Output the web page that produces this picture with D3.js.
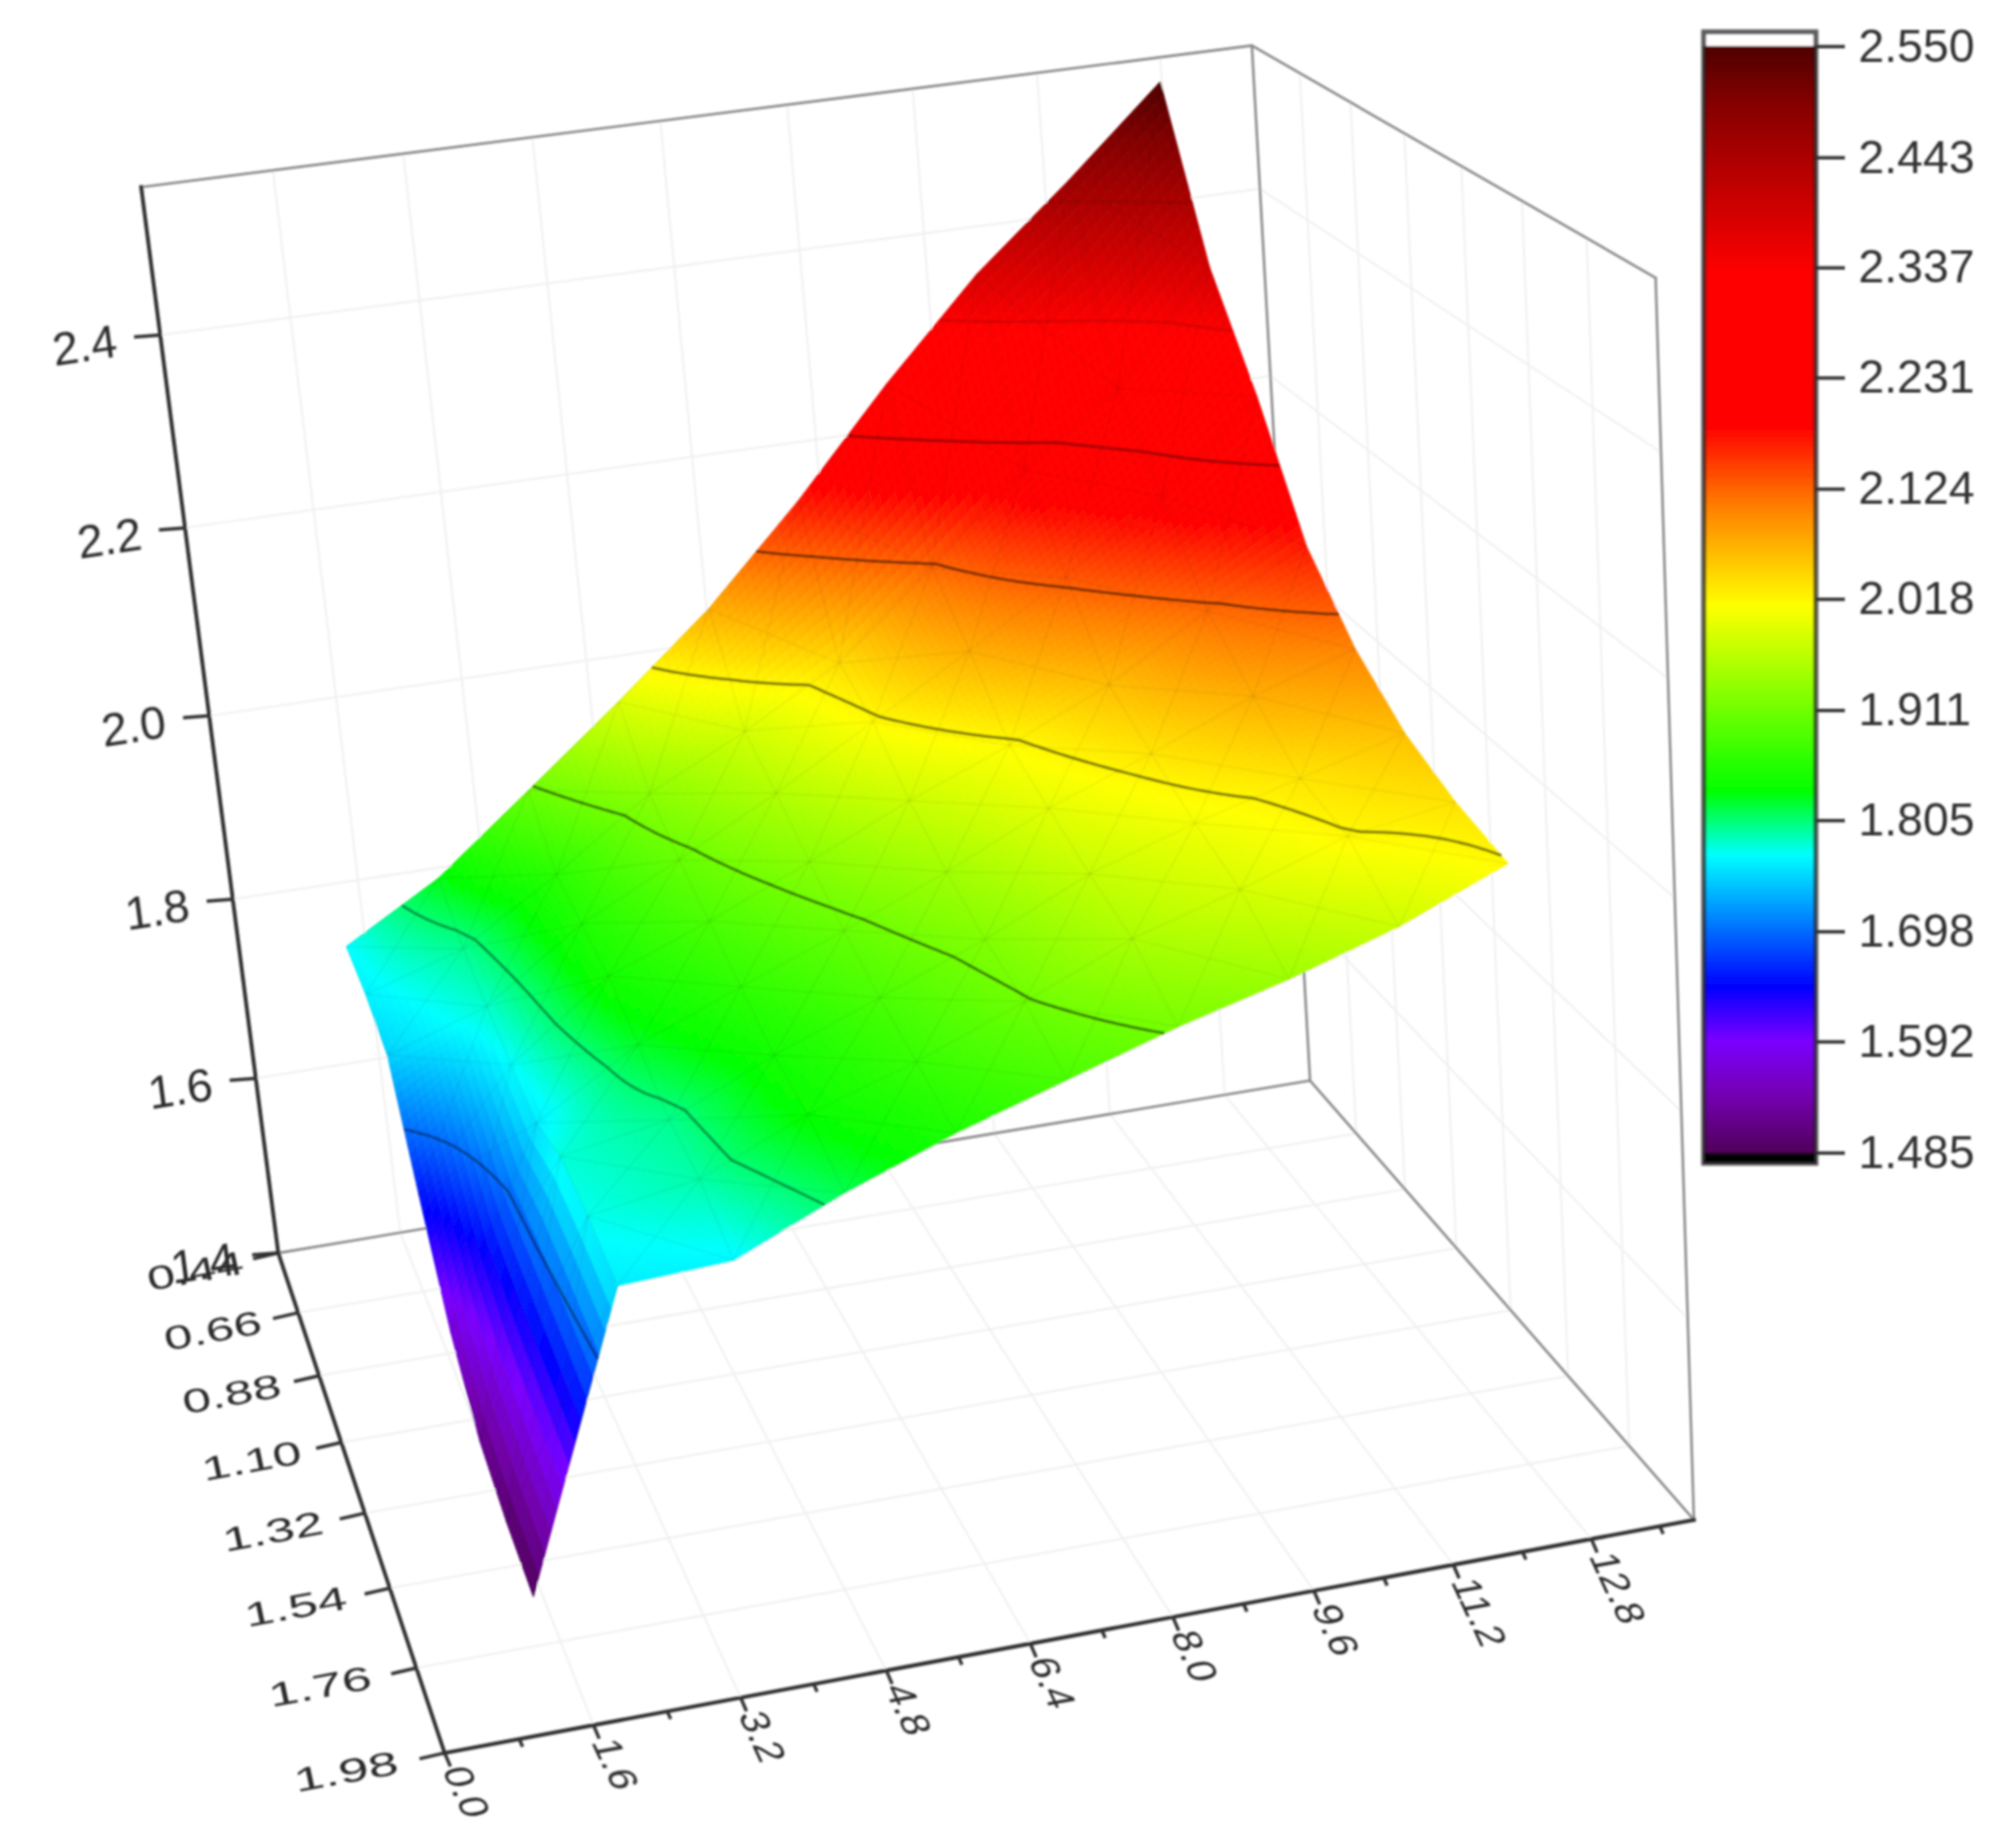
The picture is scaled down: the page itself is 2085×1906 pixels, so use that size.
<!DOCTYPE html>
<html lang="en">
<head>
<meta charset="UTF-8">
<title>Surface plot with D3.js</title>
<style>
    body { margin: 0; background: #fff; }
    text { font-family: "Liberation Sans", Arial, sans-serif; }
</style>
</head>
<body>
<script src="https://d3js.org/d3.v7.min.js"></script>
<script>
const W = 2085, H = 1906;

// axis ticks
const xTicks = [0, 1.6, 3.2, 4.8, 6.4, 8, 9.6, 11.2, 12.8];
const xMinor = [0.8, 2.4, 4, 5.6, 7.2, 8.8, 10.4, 12, 13.6];
const yTicks = [0.44, 0.66, 0.88, 1.1, 1.32, 1.54, 1.76, 1.98];
const zTicks = [1.4, 1.6, 1.8, 2, 2.2, 2.4];
const barTicks = [1.485, 1.592, 1.698, 1.805, 1.911, 2.018, 2.124, 2.231, 2.337, 2.443, 2.55];

// surface nodes: x along the back and front rows, y along the left and right columns
const xBack = [1.22, 2.46, 3.70, 4.94, 6.18, 7.42, 8.66, 9.90, 11.14, 12.38];
const xFront = [1.26, 2.52, 3.78, 5.04, 6.30, 7.56, 8.82, 10.08, 11.34, 12.60];
const yLeft = [0.59, 0.77, 0.95, 1.13, 1.31, 1.49, 1.67, 1.85];
const yRight = [0.60, 0.777, 0.954, 1.131, 1.309, 1.486, 1.663, 1.84];

// surface heights, back row first
const zRow0 = [1.770, 1.828, 1.907, 1.987, 2.071, 2.170, 2.279, 2.379, 2.462, 2.550];
const zRow1 = [1.765, 1.797, 1.860, 1.930, 1.980, 2.036, 2.120, 2.208, 2.277, 2.387];
const zRow2 = [1.749, 1.783, 1.853, 1.903, 1.956, 2.014, 2.071, 2.131, 2.199, 2.286];
const zRow3 = [1.654, 1.771, 1.845, 1.884, 1.928, 1.974, 2.014, 2.059, 2.118, 2.168];
const zRow4 = [1.566, 1.762, 1.823, 1.864, 1.903, 1.945, 1.992, 2.030, 2.071, 2.102];
const zRow5 = [1.513, 1.780, 1.798, 1.844, 1.883, 1.923, 1.970, 2.003, 2.030, 2.058];
const zRow6 = [1.493, 1.775, 1.792, 1.836, 1.869, 1.909, 1.952, 1.982, 2.016, 2.032];
const zRow7 = [1.483, 1.763, 1.768, 1.813, 1.851, 1.883, 1.915, 1.942, 1.974, 2.016];
const zGrid = [zRow0, zRow1, zRow2, zRow3, zRow4, zRow5, zRow6, zRow7];

// contour levels
const contourLevels = [1.698, 1.805, 1.911, 2.018, 2.124, 2.231, 2.337, 2.443];
const contourAlpha = [0.4, 0.4, 0.5, 0.5, 0.5, 0.35, 0.12, 0.08];

// colour map
const colorStops = [1.485, 1.535, 1.592, 1.644, 1.771, 1.832, 2.011, 2.105, 2.184, 2.33, 2.5, 2.55];
const colorHex = ['#50005a', '#7200aa', '#7a00ff', '#0000ff', '#00ffff', '#00ff00', '#ffff00', '#ff8000', '#ff0000', '#ff0000', '#800000', '#4d0000'];
const color = d3.scaleLinear().domain(colorStops).range(colorHex);

// unit cube corners and where they land on the page, used to fit the camera
const boxCorners = [
    [0, 1, 0, 459, 1812], [1, 1, 0, 1753, 1572], [0, 0, 0, 288.5, 1297], [1, 0, 0, 1354, 1117],
    [0, 0, 1, 146, 193], [1, 0, 1, 1295, 47], [1, 1, 1, 1712, 288]
];

function solveLinear(A, b) {
    const n = b.length;
    A = A.map((r, i) => [...r, b[i]]);
    for (let i = 0; i < n; i++) {
        let p = i;
        for (let k = i + 1; k < n; k++) if (Math.abs(A[k][i]) > Math.abs(A[p][i])) p = k;
        [A[i], A[p]] = [A[p], A[i]];
        for (let k = i + 1; k < n; k++) {
            const f = A[k][i] / A[i][i];
            for (let j = i; j <= n; j++) A[k][j] -= f * A[i][j];
        }
    }
    const x = Array(n).fill(0);
    for (let i = n - 1; i >= 0; i--) {
        let s = A[i][n];
        for (let j = i + 1; j < n; j++) s -= A[i][j] * x[j];
        x[i] = s / A[i][i];
    }
    return x;
}

// least squares for the 3x4 perspective matrix
const rows = [], rhs = [];
boxCorners.forEach(([X, Y, Z, u, v]) => {
    u /= 1000; v /= 1000;
    rows.push([X, Y, Z, 1, 0, 0, 0, 0, -u * X, -u * Y, -u * Z]); rhs.push(u);
    rows.push([0, 0, 0, 0, X, Y, Z, 1, -v * X, -v * Y, -v * Z]); rhs.push(v);
});
const cam = solveLinear(
    d3.range(11).map(i => d3.range(11).map(j => d3.sum(rows, r => r[i] * r[j]))),
    d3.range(11).map(i => d3.sum(rows, (r, k) => r[i] * rhs[k]))
);

const xScale = d3.scaleLinear().domain([0, 14]);
const yScale = d3.scaleLinear().domain([0.44, 1.98]);
const zScale = d3.scaleLinear().domain([1.4, 2.55]);

function proj(x, y, z) {
    const X = xScale(x), Y = yScale(y), Z = zScale(z);
    const w = cam[8] * X + cam[9] * Y + cam[10] * Z + 1;
    return [1000 * (cam[0] * X + cam[1] * Y + cam[2] * Z + cam[3]) / w,
            1000 * (cam[4] * X + cam[5] * Y + cam[6] * Z + cam[7]) / w];
}

const NX = xBack.length, NY = yLeft.length;
const lerp = (a, b, t) => a + (b - a) * t;
const at = (arr, f) => { const i = Math.min(arr.length - 2, Math.floor(f)); return lerp(arr[i], arr[i + 1], f - i); };

function zAt(fi, fj) {
    const i = Math.min(NX - 2, Math.floor(fi)), j = Math.min(NY - 2, Math.floor(fj)), a = fi - i, b = fj - j;
    return zGrid[j][i] * (1 - a) * (1 - b) + zGrid[j][i + 1] * a * (1 - b) + zGrid[j + 1][i] * (1 - a) * b + zGrid[j + 1][i + 1] * a * b;
}
const surf = (fi, fj) => proj(
    lerp(at(xBack, fi), at(xFront, fi), fj / (NY - 1)),
    lerp(at(yLeft, fj), at(yRight, fj), fi / (NX - 1)),
    zAt(fi, fj)
);

const svg = d3.select('body').append('svg').attr('width', W).attr('height', H).style('display', 'block');
svg.append('defs').append('filter').attr('id', 'soft').attr('filterUnits', 'userSpaceOnUse')
    .attr('x', 0).attr('y', 0).attr('width', W).attr('height', H)
    .append('feGaussianBlur').attr('stdDeviation', 1);
svg.append('rect').attr('width', W).attr('height', H).attr('fill', '#fff');
const root = svg.append('g').attr('filter', 'url(#soft)');

const seg = (g, a, b) => g.append('line').attr('x1', a[0]).attr('y1', a[1]).attr('x2', b[0]).attr('y2', b[1]);

// grid on the floor and both walls
const grid = root.append('g').attr('stroke', '#f0f0f0').attr('stroke-width', 2);
xTicks.slice(1).forEach(x => {
    seg(grid, proj(x, 1.98, 1.4), proj(x, 0.44, 1.4));
    seg(grid, proj(x, 0.44, 1.4), proj(x, 0.44, 2.55));
});
yTicks.slice(1, -1).forEach(y => {
    seg(grid, proj(0, y, 1.4), proj(14, y, 1.4));
    seg(grid, proj(14, y, 1.4), proj(14, y, 2.55));
});
zTicks.slice(1).forEach(z => {
    seg(grid, proj(0, 0.44, z), proj(14, 0.44, z));
    seg(grid, proj(14, 0.44, z), proj(14, 1.98, z));
});

// thin box edges
const thin = root.append('g').attr('stroke', '#8a8a8a').attr('stroke-width', 2.6).attr('stroke-linecap', 'round');
[[[0, 0.44, 1.4], [14, 0.44, 1.4]], [[14, 0.44, 1.4], [14, 1.98, 1.4]], [[14, 0.44, 1.4], [14, 0.44, 2.55]],
 [[0, 0.44, 2.55], [14, 0.44, 2.55]], [[14, 0.44, 2.55], [14, 1.98, 2.55]], [[14, 1.98, 2.55], [14, 1.98, 1.4]]]
    .forEach(d => seg(thin, proj(...d[0]), proj(...d[1])));

// surface, each cell cut into small quads so the colour runs smoothly
const S = 14, quads = [];
for (let fj = 0; fj < (NY - 1) * S; fj++) {
    for (let fi = 0; fi < (NX - 1) * S; fi++) {
        const c = [[fi, fj], [fi + 1, fj], [fi + 1, fj + 1], [fi, fj + 1]].map(([a, b]) => [a / S, b / S]);
        quads.push({ c, z: d3.mean(c, q => zAt(...q)) });
    }
}
root.append('g').selectAll('path').data(quads).enter().append('path')
    .attr('d', d => 'M' + d.c.map(q => surf(...q).join(',')).join('L') + 'Z')
    .attr('fill', d => color(d.z))
    .attr('stroke', d => color(d.z))
    .attr('stroke-width', 0.8);

// faint triangle mesh
const mesh = root.append('g').attr('stroke', '#000').attr('stroke-opacity', 0.06).attr('stroke-width', 1.5);
for (let j = 0; j < NY - 1; j++) {
    for (let i = 0; i < NX - 1; i++) {
        seg(mesh, surf(i, j), surf(i + 1, j + 1));
        seg(mesh, surf(i + 1, j), surf(i, j + 1));
        seg(mesh, surf(i, j), surf(i + 1, j));
        seg(mesh, surf(i, j), surf(i, j + 1));
    }
}

// contour lines, border stretches of each ring dropped
const cw = (NX - 1) * S + 1, ch = (NY - 1) * S + 1, vals = [];
for (let j = 0; j < ch; j++) for (let i = 0; i < cw; i++) vals.push(zAt(i / S, j / S));
const line = d3.line();
d3.contours().size([cw, ch]).thresholds(contourLevels)(vals).forEach((c, k) => {
    const runs = [];
    c.coordinates.forEach(poly => poly.forEach(ring => {
        let run = [];
        ring.forEach(q => {
            if (q[0] <= 0 || q[0] >= cw || q[1] <= 0 || q[1] >= ch) {
                if (run.length > 1) runs.push(run);
                run = [];
            } else {
                run.push(surf(Math.max(0, q[0] - 0.5) / S, Math.max(0, q[1] - 0.5) / S));
            }
        });
        if (run.length > 1) runs.push(run);
    }));
    root.append('g').selectAll('path').data(runs).enter().append('path')
        .attr('d', line).attr('fill', 'none').attr('stroke', '#000')
        .attr('stroke-opacity', contourAlpha[k]).attr('stroke-width', 3);
});

// thick axes
const axisLines = root.append('g').attr('stroke', '#333').attr('stroke-width', 4).attr('stroke-linecap', 'square');
seg(axisLines, proj(0, 1.98, 1.4), proj(14, 1.98, 1.4));
seg(axisLines, proj(0, 1.98, 1.4), proj(0, 0.44, 1.4));
seg(axisLines, proj(0, 0.44, 1.4), proj(0, 0.44, 2.55));

const ticks = root.append('g').attr('stroke', '#333').attr('stroke-width', 3.5);
const labels = root.append('g').attr('fill', '#2a2a2a').attr('font-size', 48);

// labels lie in the floor plane, so they get a skewed matrix
xTicks.forEach(x => {
    const q = proj(x, 1.98, 1.4);
    seg(ticks, q, [q[0] + 6, q[1] + 14]);
    labels.append('text')
        .attr('transform', `matrix(0.357,0.774,-0.833,0.153,${q[0] - 3},${q[1] + 17})`)
        .text(x.toFixed(1));
});
xMinor.forEach(x => {
    const q = proj(x, 1.98, 1.4);
    seg(ticks, q, [q[0] + 3.5, q[1] + 8]);
});
yTicks.forEach(y => {
    const q = proj(0, y, 1.4), t = (y - 0.44) / 1.54, k = lerp(1.08, 1.17, t);
    seg(ticks, q, [q[0] - 26, q[1] + 6]);
    labels.append('text').attr('text-anchor', 'end')
        .attr('transform', `matrix(${k * 0.98},${-k * 0.18},0.15,0.7,${q[0] - lerp(34, 46, t)},${q[1] + 21})`)
        .text(y.toFixed(2));
});
zTicks.forEach(z => {
    const q = proj(0, 0.44, z);
    seg(ticks, q, [q[0] - 27, q[1] + 2]);
    labels.append('text').attr('text-anchor', 'end')
        .attr('transform', `matrix(0.989,-0.15,0.13,0.99,${q[0] - 43},${q[1] + 22})`)
        .text(z.toFixed(1));
});

// colour bar
const yBar = d3.scaleLinear().domain([1.485, 2.55]).range([1192, 47.7]);
const bar = root.append('g');
bar.append('rect').attr('x', 1762).attr('y', 33).attr('width', 116).attr('height', 1170).attr('fill', '#fff');
bar.append('rect').attr('x', 1762).attr('y', 1192).attr('width', 116).attr('height', 11).attr('fill', '#000');
bar.selectAll('rect.step').data(d3.range(1.485, 2.55, 0.0025)).enter().append('rect').attr('class', 'step')
    .attr('x', 1762).attr('width', 116)
    .attr('y', d => yBar(d + 0.0025))
    .attr('height', d => yBar(d) - yBar(d + 0.0025) + 0.6)
    .attr('fill', d => color(d));
bar.append('rect').attr('x', 1762).attr('y', 33).attr('width', 116).attr('height', 1170)
    .attr('fill', 'none').attr('stroke', '#222').attr('stroke-opacity', 0.75).attr('stroke-width', 5);
const barAxis = bar.append('g').attr('transform', 'translate(1878,0)')
    .call(d3.axisRight(yBar).tickValues(barTicks).tickFormat(d3.format('.3f')).tickSize(30).tickPadding(14));
barAxis.select('.domain').remove();
barAxis.selectAll('line').attr('stroke', '#333').attr('stroke-width', 3.5);
barAxis.selectAll('text').attr('font-size', 48).attr('font-family', '"Liberation Sans", Arial, sans-serif').attr('fill', '#333');
</script>
</body>
</html>
